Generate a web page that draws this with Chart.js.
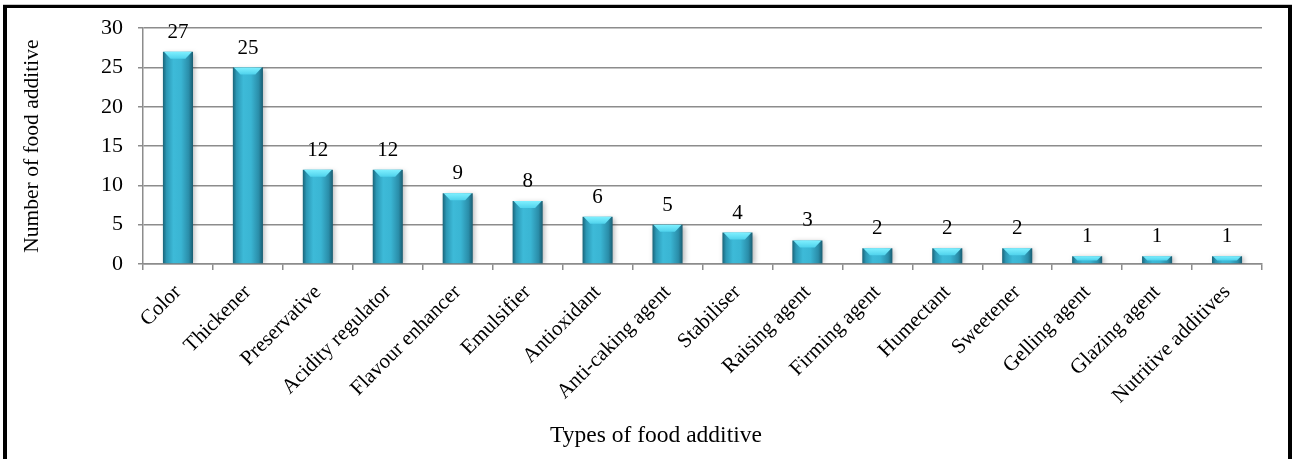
<!DOCTYPE html>
<html>
<head>
<meta charset="utf-8">
<script src="https://cdn.jsdelivr.net/npm/chart.js@4.4.1/dist/chart.umd.min.js"></script>
<style>
  html, body { margin: 0; padding: 0; background: #fff; overflow: hidden; }
  #wrap { position: relative; width: 1295px; height: 459px; }
  #c { position: absolute; left: 0; top: 0; }
  #frame {
    position: absolute; left: 3px; top: 5px; width: 1281px; height: 470px;
    border-left: 4px solid #000; border-top: 3px solid #000; border-right: 4px solid #000;
    box-shadow: 0 -1px 0 #c8c8c8; pointer-events: none;
  }
</style>
</head>
<body>
<div id="wrap">
  <canvas id="c" width="1295" height="459"></canvas>
  <div id="frame"></div>
</div>
<script>
// Food additive categories and how many additives fall in each
const categories = [
  'Color', 'Thickener', 'Preservative', 'Acidity regulator', 'Flavour enhancer',
  'Emulsifier', 'Antioxidant', 'Anti-caking agent', 'Stabiliser', 'Raising agent',
  'Firming agent', 'Humectant', 'Sweetener', 'Gelling agent', 'Glazing agent',
  'Nutritive additives'
];
const counts = [27, 25, 12, 12, 9, 8, 6, 5, 4, 3, 2, 2, 2, 1, 1, 1];
const yTicks = [0, 5, 10, 15, 20, 25, 30];
const xTitle = 'Types of food additive';
const yTitle = 'Number of food additive';

const SERIF = "'Liberation Serif', 'Times New Roman', serif";
const BAR_FRACTION = 0.43;

// Horizontal cylinder-like shading for each bar
function barFill(ctx) {
  const chart = ctx.chart;
  const xs = chart.scales.x;
  if (!chart.chartArea || !xs || ctx.dataIndex === undefined) return '#3ab4d2';
  const cx = xs.getPixelForValue(ctx.dataIndex);
  const w = (chart.chartArea.right - chart.chartArea.left) / categories.length * BAR_FRACTION;
  const g = chart.ctx.createLinearGradient(cx - w / 2, 0, cx + w / 2, 0);
  g.addColorStop(0, '#1a6478');
  g.addColorStop(0.12, '#2b96b3');
  g.addColorStop(0.35, '#3dbad8');
  g.addColorStop(0.6, '#3ab5d3');
  g.addColorStop(0.86, '#2a8da9');
  g.addColorStop(1, '#195d71');
  return g;
}

// Soft shadow behind bars, bevelled top cap, value labels and the x-axis title
const barDecor = {
  id: 'barDecor',
  beforeDatasetsDraw(chart) {
    const c = chart.ctx;
    c.save();
    c.shadowColor = 'rgba(0,0,0,0.28)';
    c.shadowBlur = 5;
    c.shadowOffsetX = 2;
    c.shadowOffsetY = 1;
  },
  afterDatasetsDraw(chart) {
    const c = chart.ctx;
    c.restore();
    const meta = chart.getDatasetMeta(0);
    c.save();
    meta.data.forEach((el, i) => {
      const left = el.x - el.width / 2, right = el.x + el.width / 2, top = el.y;
      const capH = Math.min(7, (el.base - top) * 0.6);
      const inset = Math.min(el.width * 0.22, capH);
      const g = c.createLinearGradient(0, top, 0, top + capH);
      g.addColorStop(0, '#7ff0ff');
      g.addColorStop(1, '#4fd2ec');
      c.fillStyle = g;
      c.beginPath();
      c.moveTo(left + 1, top);
      c.lineTo(right - 1, top);
      c.lineTo(right - 1 - inset, top + capH);
      c.lineTo(left + 1 + inset, top + capH);
      c.closePath();
      c.fill();

      c.fillStyle = '#000';
      c.font = '21px ' + SERIF;
      c.textAlign = 'center';
      c.textBaseline = 'alphabetic';
      c.fillText(String(counts[i]), el.x, top - 14);
    });

    // x-axis title, set slightly left of the plot centre
    c.font = '23.5px ' + SERIF;
    c.textAlign = 'center';
    c.textBaseline = 'middle';
    c.fillStyle = '#000';
    c.fillText(xTitle, 656, 436);
    c.restore();
  }
};

new Chart(document.getElementById('c'), {
  type: 'bar',
  data: {
    labels: categories,
    datasets: [{
      data: counts,
      backgroundColor: barFill,
      borderWidth: 0,
      categoryPercentage: 1,
      barPercentage: BAR_FRACTION
    }]
  },
  options: {
    responsive: false,
    animation: false,
    devicePixelRatio: 1,
    layout: { padding: { top: 28, right: 33, bottom: 0, left: 0 } },
    plugins: { legend: { display: false }, tooltip: { enabled: false } },
    scales: {
      x: {
        afterFit(s) { s.height = 195; },
        grid: { drawOnChartArea: false, drawTicks: true, tickLength: 6, color: '#8c8c8c', lineWidth: 1.5 },
        border: { color: '#8c8c8c', width: 1.5 },
        ticks: {
          color: '#000', font: { family: SERIF, size: 21 },
          minRotation: 45, maxRotation: 45, padding: 10, autoSkip: false
        }
      },
      y: {
        min: 0, max: 30,
        afterFit(s) { s.width = 143; },
        afterBuildTicks(s) { s.ticks = yTicks.map(v => ({ value: v })); },
        grid: { color: '#8c8c8c', lineWidth: 1.5, tickLength: 5 },
        border: { color: '#8c8c8c', width: 1.5 },
        ticks: { color: '#000', font: { family: SERIF, size: 22 }, padding: 15 },
        title: {
          display: true, text: yTitle, color: '#000',
          font: { family: SERIF, size: 21.5 }, padding: { top: 19, bottom: 0 }
        }
      }
    }
  },
  plugins: [barDecor]
});
</script>
</body>
</html>
